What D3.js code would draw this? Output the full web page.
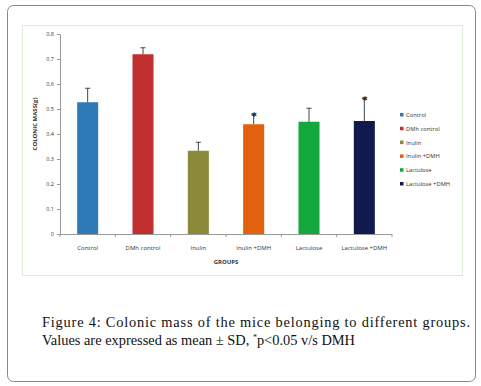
<!DOCTYPE html>
<html>
<head>
<meta charset="utf-8">
<script src="https://cdn.jsdelivr.net/npm/d3@7"></script>
<style>
body { margin: 0; background: #fff; }
</style>
</head>
<body>
<div id="chart-area"></div>
<script>
let groups = ["Control", "DMh control", "Inulin", "Inulin +DMH", "Lactulose", "Lactulose +DMH"];
let legendNames = ["Control", "DMh control", "Inulin", "Inulin +DMH", "Lactulose", "Lactulose +DMH"];
let means = [0.527, 0.719, 0.333, 0.439, 0.449, 0.452];
let sds = [0.056, 0.026, 0.034, 0.040, 0.054, 0.091];
let starred = [false, false, false, true, false, true];
let colors = ["#2e7ab8", "#c0302e", "#8a8a3a", "#e2600e", "#12a83c", "#111a4f"];
let yTicks = [0, 0.1, 0.2, 0.3, 0.4, 0.5, 0.6, 0.7, 0.8];

let W = 481, H = 386;
let svg = d3.select("#chart-area").append("svg")
    .attr("width", W).attr("height", H);

// outer rounded box
svg.append("rect")
    .attr("x", 7.5).attr("y", 5.5)
    .attr("width", 468).attr("height", 376)
    .attr("rx", 6)
    .attr("fill", "none").attr("stroke", "#888").attr("stroke-width", 1);

// chart frame
svg.append("rect")
    .attr("x", 22.5).attr("y", 25.5)
    .attr("width", 440).attr("height", 250)
    .attr("fill", "none").attr("stroke", "#b8d8b0").attr("stroke-dasharray", "1,1");

let margin = {left: 60, top: 34};
let width = 332, height = 200;
let g = svg.append("g").attr("transform", "translate(" + margin.left + "," + margin.top + ")");

let x = d3.scaleBand().domain(groups).range([0, width]).paddingInner(0.62).paddingOuter(0.31);
let y = d3.scaleLinear().domain([0, 0.8]).range([height, 0]);

// y axis
let yAxis = d3.axisLeft(y).tickValues(yTicks).tickSize(3)
    .tickFormat(function(d){ return d === 0 ? "0" : d3.format(".1f")(d); });
let ya = g.append("g").call(yAxis);
ya.select(".domain").attr("stroke", "#999");
ya.selectAll(".tick line").attr("stroke", "#999");
ya.selectAll("text").attr("font-family", "Open Sans, sans-serif").attr("font-size", "5.5px").attr("fill", "#333").attr("x", -6);

// x axis with boundary ticks
g.append("line").attr("x1", 0).attr("x2", width).attr("y1", height + 0.5).attr("y2", height + 0.5).attr("stroke", "#999");
let bounds = d3.range(groups.length + 1).map(function(i){ return i * width / groups.length; });
g.selectAll(".xt").data(bounds).enter().append("line")
    .attr("x1", function(d){ return d; }).attr("x2", function(d){ return d; })
    .attr("y1", height).attr("y2", height + 3).attr("stroke", "#999");
g.selectAll(".xl").data(groups).enter().append("text")
    .attr("x", function(d){ return x(d) + x.bandwidth() / 2; })
    .attr("y", height + 16)
    .attr("text-anchor", "middle")
    .attr("font-family", "Open Sans, sans-serif").attr("font-size", "6px").attr("fill", "#333")
    .text(function(d){ return d; });

// axis titles
g.append("text").attr("x", width / 2).attr("y", height + 30)
    .attr("text-anchor", "middle").attr("font-family", "Open Sans, sans-serif")
    .attr("font-size", "6px").attr("font-weight", "bold").attr("fill", "#333").text("GROUPS");
g.append("text").attr("transform", "rotate(-90)")
    .attr("x", -height / 2 + 10).attr("y", -23)
    .attr("text-anchor", "middle").attr("font-family", "Open Sans, sans-serif")
    .attr("font-size", "6px").attr("font-weight", "bold").attr("fill", "#333").text("COLONIC MASS(g)");

// bars
g.selectAll(".bar").data(groups).enter().append("rect")
    .attr("x", function(d){ return x(d); })
    .attr("y", function(d, i){ return y(means[i]); })
    .attr("width", x.bandwidth())
    .attr("height", function(d, i){ return height - y(means[i]); })
    .attr("fill", function(d, i){ return colors[i]; });

// error bars
g.selectAll(".err").data(groups).enter().append("line")
    .attr("x1", function(d){ return x(d) + x.bandwidth() / 2; })
    .attr("x2", function(d){ return x(d) + x.bandwidth() / 2; })
    .attr("y1", function(d, i){ return y(means[i]); })
    .attr("y2", function(d, i){ return y(means[i] + sds[i]); })
    .attr("stroke", "#444").attr("stroke-width", 1);
g.selectAll(".cap").data(groups).enter().append("line")
    .attr("x1", function(d){ return x(d) + x.bandwidth() / 2 - 2.5; })
    .attr("x2", function(d){ return x(d) + x.bandwidth() / 2 + 2.5; })
    .attr("y1", function(d, i){ return y(means[i] + sds[i]); })
    .attr("y2", function(d, i){ return y(means[i] + sds[i]); })
    .attr("stroke", "#444").attr("stroke-width", 1);

// significance stars
g.selectAll(".star").data(groups.filter(function(d, i){ return starred[i]; })).enter().append("text")
    .attr("x", function(d){ return x(d) + x.bandwidth() / 2 + 0.5; })
    .attr("y", function(d){ let i = groups.indexOf(d); return y(means[i] + sds[i]) + 6; })
    .attr("text-anchor", "middle").attr("font-family", "DejaVu Sans, sans-serif")
    .attr("font-size", "10px").attr("font-weight", "bold").attr("fill", "#222").text("*");

// legend
let leg = svg.append("g").attr("transform", "translate(400,112)");
let rows = leg.selectAll(".lg").data(legendNames).enter().append("g")
    .attr("transform", function(d, i){ return "translate(0," + (i * 13.8) + ")"; });
rows.append("rect").attr("width", 3.5).attr("height", 3.5).attr("y", 1)
    .attr("fill", function(d, i){ return colors[i]; });
rows.append("text").attr("x", 6).attr("y", 5)
    .attr("font-family", "Open Sans, sans-serif").attr("font-size", "5.8px").attr("fill", "#333")
    .text(function(d){ return d; });

// caption
let cap = svg.append("g").attr("font-family", "Liberation Serif, serif").attr("font-size", "14.4px").attr("fill", "#111");
cap.append("text").attr("x", 42).attr("y", 327)
    .attr("textLength", 428).attr("lengthAdjust", "spacing")
    .text("Figure 4: Colonic mass of the mice belonging to different groups.");
let l2 = cap.append("text").attr("x", 42).attr("y", 345);
l2.append("tspan").text("Values are expressed as mean \u00b1 SD, ");
l2.append("tspan").attr("font-size", "8px").attr("dy", -5).text("*");
l2.append("tspan").attr("dy", 5).text("p<0.05 v/s DMH");
</script>
</body>
</html>
